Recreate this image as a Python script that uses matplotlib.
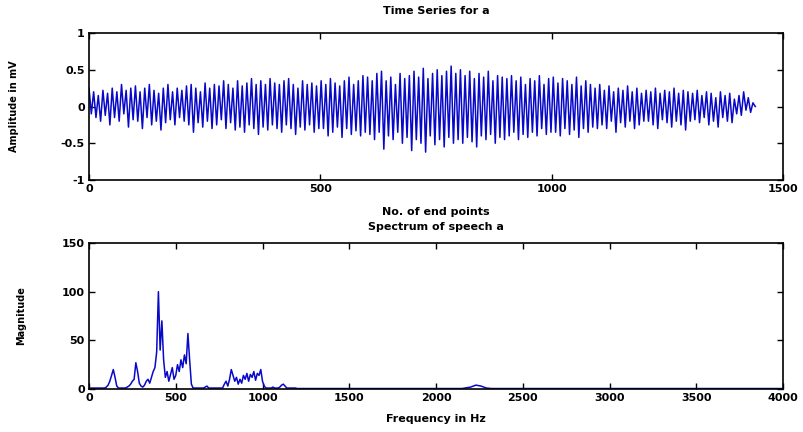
import numpy as np
import matplotlib
matplotlib.use("Agg")
import matplotlib.pyplot as plt

# TIME SERIES: PEAK AND TROUGH OF EACH CYCLE (ABOUT 10 SAMPLES PER CYCLE)
peaks = [0.25, 0.2, 0.15, 0.22, 0.18, 0.25, 0.2, 0.3, 0.22, 0.25,
         0.28, 0.2, 0.25, 0.3, 0.22, 0.18, 0.25, 0.3, 0.2, 0.25,
         0.22, 0.28, 0.3, 0.25, 0.2, 0.32, 0.25, 0.3, 0.28, 0.35,
         0.3, 0.25, 0.35, 0.28, 0.32, 0.38, 0.3, 0.35, 0.3, 0.38,
         0.32, 0.3, 0.35, 0.38, 0.3, 0.25, 0.35, 0.3, 0.32, 0.28,
         0.35, 0.3, 0.38, 0.32, 0.28, 0.35, 0.4, 0.3, 0.35, 0.42,
         0.4, 0.35, 0.45, 0.48, 0.35, 0.4, 0.3, 0.45, 0.38, 0.42,
         0.48, 0.4, 0.52, 0.38, 0.45, 0.5, 0.42, 0.48, 0.55, 0.45,
         0.5, 0.42, 0.48, 0.38, 0.45, 0.4, 0.48, 0.35, 0.42, 0.4,
         0.38, 0.42, 0.35, 0.4, 0.3, 0.38, 0.35, 0.42, 0.3, 0.38,
         0.4, 0.32, 0.38, 0.35, 0.3, 0.4, 0.28, 0.35, 0.3, 0.25,
         0.3, 0.22, 0.28, 0.2, 0.25, 0.22, 0.28, 0.2, 0.25, 0.18,
         0.22, 0.2, 0.25, 0.18, 0.22, 0.2, 0.25, 0.18, 0.22, 0.2,
         0.18, 0.22, 0.15, 0.2, 0.18, 0.12, 0.2, 0.15, 0.18, 0.1,
         0.15, 0.2, 0.12, 0.05]
troughs = [-0.1, -0.15, -0.2, -0.12, -0.25, -0.15, -0.2, -0.1, -0.28, -0.18,
           -0.2, -0.3, -0.15, -0.25, -0.2, -0.32, -0.22, -0.18, -0.25, -0.15,
           -0.2, -0.25, -0.35, -0.22, -0.28, -0.2, -0.3, -0.25, -0.18, -0.3,
           -0.22, -0.32, -0.28, -0.35, -0.25, -0.3, -0.38, -0.28, -0.32, -0.25,
           -0.3, -0.35, -0.25, -0.3, -0.38, -0.28, -0.32, -0.25, -0.35, -0.3,
           -0.3, -0.4, -0.35, -0.28, -0.42, -0.3, -0.38, -0.33, -0.4, -0.35,
           -0.38, -0.45, -0.35, -0.58, -0.4, -0.45, -0.35, -0.5, -0.42, -0.6,
           -0.45, -0.5, -0.62, -0.4, -0.52, -0.45, -0.55, -0.42, -0.5, -0.45,
           -0.5, -0.42, -0.48, -0.55, -0.4, -0.45, -0.38, -0.5, -0.42, -0.45,
           -0.4, -0.35, -0.45, -0.38, -0.42, -0.35, -0.4, -0.3, -0.38, -0.35,
           -0.35, -0.4, -0.3, -0.38, -0.32, -0.42, -0.3, -0.35, -0.28, -0.3,
           -0.25, -0.3, -0.2, -0.35, -0.22, -0.28, -0.2, -0.3, -0.25, -0.2,
           -0.2, -0.25, -0.3, -0.18, -0.22, -0.28, -0.2, -0.25, -0.32, -0.2,
           -0.18, -0.22, -0.15, -0.25, -0.2, -0.28, -0.15, -0.2, -0.22, -0.1,
           -0.12, -0.05, -0.08, 0.0]
n_samples = 1440

# SPECTRUM: 10 HZ STEPS FROM 0 TO 1190 HZ
spec_low = [1, 1, 1, 1, 1, 1, 1, 1, 1, 1,
            2, 4, 8, 14, 20, 12, 3, 1, 1, 1,
            1, 1, 2, 3, 5, 8, 10, 27, 18, 6,
            3, 2, 4, 8, 10, 6, 12, 18, 22, 38,
            100, 40, 70, 30, 12, 18, 8, 15, 22, 10,
            14, 25, 18, 30, 22, 35, 26, 57, 30, 5,
            1, 1, 1, 1, 1, 1, 1, 2, 3, 1,
            1, 1, 1, 1, 1, 1, 1, 1, 5, 8,
            3, 10, 20, 14, 8, 12, 5, 10, 6, 14,
            10, 16, 8, 15, 12, 18, 9, 16, 14, 20,
            8, 3, 1, 1, 1, 1, 2, 1, 1, 1,
            2, 4, 5, 3, 1, 1, 1, 1, 1, 1]
spec_low_step = 10
# SPARSE TAIL ABOVE 1200 HZ
tail_freq = [1200, 2150, 2200, 2230, 2260, 2290, 2320, 4000]
tail_mag = [0.5, 0.5, 2, 4, 3, 1, 0.5, 0.5]

line_color = '#0808c8'

# BUILD TIME SERIES (ALTERNATE PEAK / TROUGH)
ts = np.ravel(np.column_stack([peaks, troughs]))
tx = np.linspace(0, n_samples, len(ts))

# BUILD SPECTRUM
freq = np.concatenate([np.arange(len(spec_low)) * spec_low_step, tail_freq])
mag = np.concatenate([spec_low, tail_mag])

plt.rcParams['font.family'] = 'DejaVu Sans'
plt.rcParams['font.size'] = 8
plt.rcParams['font.weight'] = 'bold'

fig = plt.figure(figsize=(8.04, 4.32), dpi=100)

ax1 = fig.add_axes([0.1107, 0.5833, 0.8632, 0.3403])
ax1.plot(tx, ts, color=line_color, linewidth=1.1)
ax1.set_xlim(0, 1500)
ax1.set_ylim(-1, 1)
ax1.set_xticks([0, 500, 1000, 1500])
ax1.set_yticks([-1, -0.5, 0, 0.5, 1])
ax1.set_yticklabels(['-1', '-0.5', '0', '0.5', '1'])
ax1.set_title('Time Series for a', fontsize=8, fontweight='bold', pad=14)
ax1.set_xlabel('No. of end points', fontsize=8, fontweight='bold', labelpad=9)
ax1.set_ylabel('Amplitude in mV', fontsize=7, fontweight='bold', labelpad=30)

ax2 = fig.add_axes([0.1107, 0.0995, 0.8632, 0.338])
ax2.plot(freq, mag, color=line_color, linewidth=1.1)
ax2.set_xlim(0, 4000)
ax2.set_ylim(0, 150)
ax2.set_xticks(range(0, 4001, 500))
ax2.set_yticks([0, 50, 100, 150])
ax2.set_title('Spectrum of speech a', fontsize=8, fontweight='bold', pad=9)
ax2.set_xlabel('Frequency in Hz', fontsize=8, fontweight='bold', labelpad=8)
ax2.set_ylabel('Magnitude', fontsize=7, fontweight='bold', labelpad=26)

for ax in (ax1, ax2):
    ax.tick_params(direction='in', top=True, right=True, length=4, width=1,
                   labelsize=8, pad=3)
    for s in ax.spines.values():
        s.set_linewidth(1.2)

fig.savefig('out.png', dpi=100)
